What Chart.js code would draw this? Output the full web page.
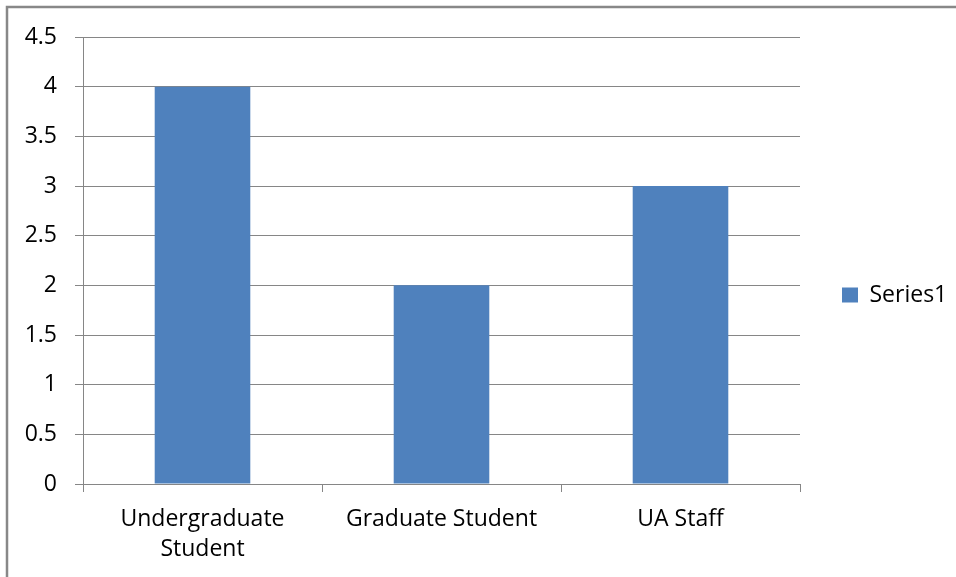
<!DOCTYPE html>
<html>
<head>
<meta charset="utf-8">
<script src="https://cdn.jsdelivr.net/npm/chart.js@4/dist/chart.umd.min.js"></script>
<style>
  html, body { margin: 0; padding: 0; background: #ffffff; }
  #wrap { width: 956px; height: 577px; position: relative; }
</style>
</head>
<body>
<div id="wrap"><canvas id="c" width="956" height="577"></canvas></div>
<script>
const categories = [["Undergraduate", "Student"], "Graduate Student", "UA Staff"];
const series1 = [4, 2, 3];
const seriesName = "Series1";
const yMin = 0, yMax = 4.5, yStep = 0.5;

const FONT = "'Open Sans', Lato, sans-serif";
const GRID = "#868686";
const BAR = "#4F81BD";
const TEXT = "#000000";

const borderPlugin = {
  id: 'outerBorder',
  afterDraw(chart) {
    const ctx = chart.ctx;
    ctx.save();
    ctx.strokeStyle = '#888888';
    ctx.lineWidth = 2.5;
    ctx.strokeRect(7, 7, 980, 600);
    ctx.restore();
  }
};

new Chart(document.getElementById('c'), {
  type: 'bar',
  data: {
    labels: categories,
    datasets: [{
      label: seriesName,
      data: series1,
      backgroundColor: BAR,
      borderWidth: 0,
      categoryPercentage: 1.0,
      barPercentage: 0.4
    }]
  },
  options: {
    responsive: false,
    animation: false,
    layout: { padding: { left: 0, right: 0, top: 13, bottom: 0 } },
    plugins: {
      tooltip: { enabled: false },
      legend: {
        position: 'right',
        maxWidth: 156,
        labels: {
          boxWidth: 16,
          boxHeight: 15,
          padding: 42,
          color: TEXT,
          font: { family: FONT, size: 23 }
        }
      }
    },
    scales: {
      xTop: {
        type: 'category',
        position: 'top',
        display: true,
        grid: { display: false },
        border: { display: false },
        ticks: { display: false },
        afterFit(scale) { scale.height = 24; }
      },
      x: {
        offset: true,
        grid: {
          offset: true,
          drawOnChartArea: false,
          drawTicks: true,
          tickLength: 8,
          color: GRID
        },
        border: { color: GRID, width: 1 },
        ticks: {
          color: TEXT,
          padding: 12,
          maxRotation: 0,
          autoSkip: false,
          font: { family: FONT, size: 23, lineHeight: '30px' }
        },
        afterFit(scale) { scale.height = 93; }
      },
      y: {
        min: yMin,
        max: yMax,
        grid: {
          color: GRID,
          tickLength: 8,
          drawTicks: true
        },
        border: { color: GRID, width: 1 },
        ticks: {
          stepSize: yStep,
          color: TEXT,
          padding: 18,
          font: { family: FONT, size: 23 },
          callback: (v) => String(+v.toFixed(2))
        },
        afterFit(scale) { scale.width = 83; }
      }
    }
  },
  plugins: [borderPlugin]
});
</script>
</body>
</html>
